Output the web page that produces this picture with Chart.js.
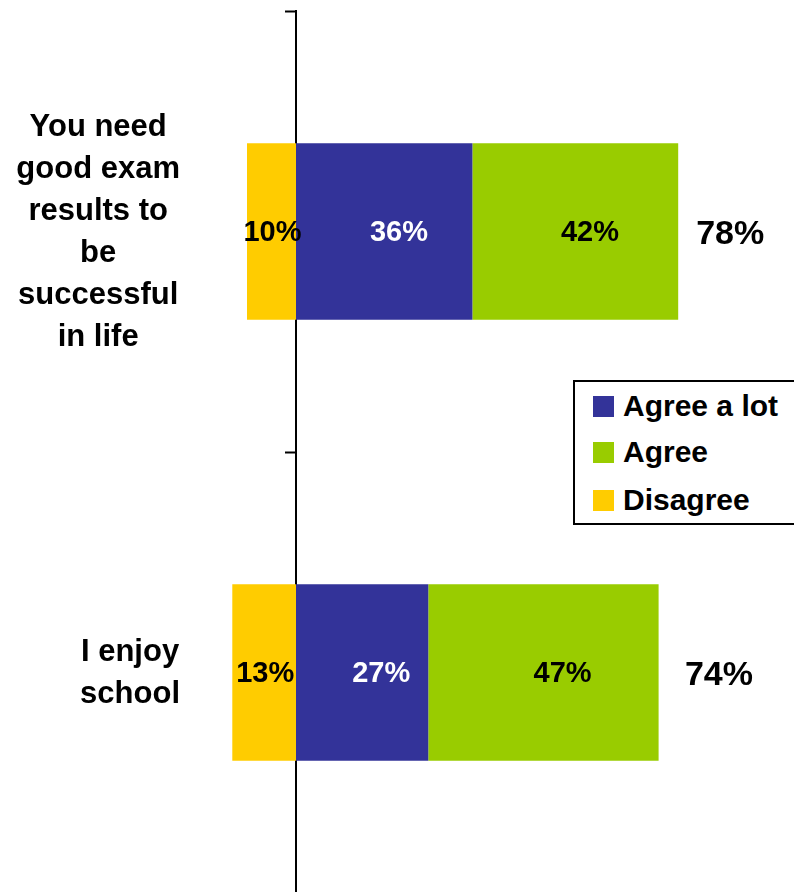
<!DOCTYPE html>
<html>
<head>
<meta charset="utf-8">
<script src="https://cdn.jsdelivr.net/npm/chart.js@4/dist/chart.umd.min.js"></script>
<style>
html,body{margin:0;padding:0;background:#fff;overflow:hidden}
#wrap{position:relative;width:794px;height:892px;overflow:hidden}
canvas{display:block}
#legend{position:absolute;left:573px;top:380px;width:240px;height:145px;border:2px solid #000;background:#fff;box-sizing:border-box;font:bold 30px "Liberation Sans",Arial,sans-serif;color:#000}
.item{position:absolute;left:18px;height:34px;display:flex;align-items:center;white-space:nowrap}
.sw{width:21px;height:21px;margin-right:9px;flex:none}
</style>
</head>
<body>
<div id="wrap">
<canvas id="c" width="794" height="893"></canvas>
<div id="legend"></div>
</div>
<script>
// ---- data ----
const categoryLines = [
  ["You need", "good exam", "results to", "be", "successful", "in life"],
  ["I enjoy", "school"]
];
const seriesNames = ["Agree a lot", "Agree", "Disagree"];
const agreeALot = [36, 27];
const agree = [42, 47];
const disagree = [10, 13];
const totals = [78, 74];
const colors = {"Agree a lot": "#333399", "Agree": "#99CC00", "Disagree": "#FFCC00"};

const FONT = '"Liberation Sans", Arial, sans-serif';

// ---- legend (HTML text) ----
const legendTops = [7, 53, 101];
const legendEl = document.getElementById('legend');
seriesNames.forEach((name, i) => {
  const d = document.createElement('div');
  d.className = 'item';
  d.style.top = legendTops[i] + 'px';
  const sw = document.createElement('span');
  sw.className = 'sw';
  sw.style.background = colors[name];
  const t = document.createElement('span');
  t.textContent = name;
  d.appendChild(sw); d.appendChild(t);
  legendEl.appendChild(d);
});

// ---- plugins ----
const valueLabels = {
  id: 'valueLabels',
  afterDatasetsDraw(chart) {
    const ctx = chart.ctx;
    ctx.save();
    ctx.textBaseline = 'middle';
    const negMeta = chart.getDatasetMeta(0);
    chart.data.datasets.forEach((ds, di) => {
      const meta = chart.getDatasetMeta(di);
      meta.data.forEach((bar, i) => {
        const v = Math.abs(ds.data[i]);
        const negBar = negMeta.data[i];
        const dw = Math.abs(negBar.base - negBar.x);
        const shift = ds.label === 'Disagree' ? 1 : dw * 0.3;
        const cx = (bar.x + bar.base) / 2 + shift;
        ctx.font = 'bold 29px ' + FONT;
        ctx.textAlign = 'center';
        ctx.fillStyle = ds.label === 'Agree a lot' ? '#ffffff' : '#000000';
        ctx.fillText(v + '%', cx, bar.y + 1);
        if (ds.label === 'Agree') {
          ctx.font = 'bold 34px ' + FONT;
          ctx.textAlign = 'left';
          ctx.fillStyle = '#000000';
          ctx.fillText(totals[i] + '%', bar.x + dw * 0.57 - 10, bar.y + 3);
        }
      });
    });
    ctx.restore();
  }
};

const categoryLabels = {
  id: 'categoryLabels',
  afterDraw(chart) {
    const ctx = chart.ctx;
    const y = chart.scales.y;
    const rightEdge = 180;
    const lh = 42;
    ctx.save();
    ctx.font = 'bold 31px ' + FONT;
    ctx.fillStyle = '#000';
    ctx.textAlign = 'center';
    ctx.textBaseline = 'middle';
    categoryLines.forEach((lines, i) => {
      const w = Math.max(...lines.map(l => ctx.measureText(l).width));
      const cx = rightEdge - w / 2;
      const cy = y.getPixelForValue(i);
      const startY = cy - (lines.length - 1) * lh / 2;
      lines.forEach((l, k) => ctx.fillText(l, cx, startY + k * lh + 1));
    });
    ctx.restore();
  }
};

// ---- chart ----
new Chart(document.getElementById('c'), {
  type: 'bar',
  data: {
    labels: categoryLines.map(l => l.join(' ')),
    datasets: [
      {label: 'Disagree', data: disagree.map(v => -v), backgroundColor: colors['Disagree']},
      {label: 'Agree a lot', data: agreeALot, backgroundColor: colors['Agree a lot']},
      {label: 'Agree', data: agree, backgroundColor: colors['Agree']}
    ]
  },
  options: {
    indexAxis: 'y',
    responsive: false,
    animation: false,
    devicePixelRatio: 1,
    layout: {padding: {left: 198, right: 8, top: 11, bottom: 0}},
    datasets: {bar: {barPercentage: 0.4, categoryPercentage: 1.0, borderWidth: 0}},
    plugins: {legend: {display: false}, tooltip: {enabled: false}},
    scales: {
      x: {type: 'linear', min: -20, max: 100, stacked: true, display: false},
      y: {
        type: 'category', stacked: true, offset: true, position: {x: 0}, z: 1,
        grid: {display: true, drawOnChartArea: false, drawTicks: true, tickLength: 10, tickWidth: 2, color: '#000', offset: true},
        border: {display: true, color: '#000', width: 2},
        ticks: {display: false}
      }
    }
  },
  plugins: [valueLabels, categoryLabels]
});
</script>
</body>
</html>
